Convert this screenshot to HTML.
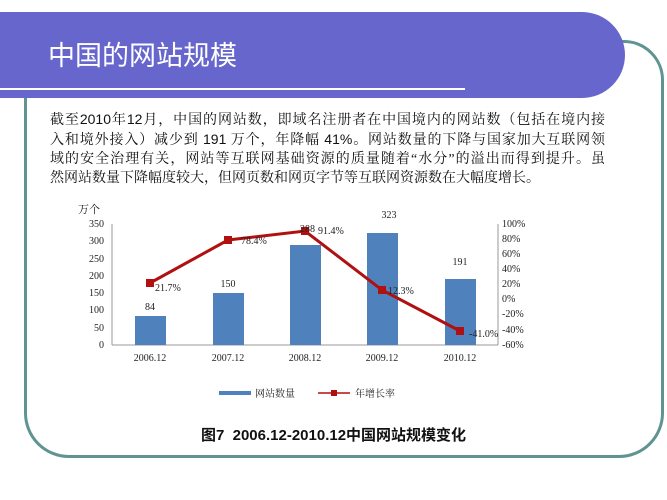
<!DOCTYPE html>
<html><head><meta charset="utf-8"><style>
body{margin:0;width:667px;height:500px;background:#fff;position:relative;overflow:hidden;font-family:"Liberation Sans","Noto Sans CJK SC",sans-serif}
.frame{position:absolute;left:24px;top:40px;width:634px;height:412px;border:3px solid #5f9490;border-radius:0 40px 45px 45px}
.hdr{position:absolute;left:0;top:12px;width:625px;height:86px;background:#6666cc;border-radius:0 48px 48px 0}
.hdr .t{position:absolute;left:48px;top:22px;color:#fff;font-size:27px}
.hdr .ln{position:absolute;left:0;top:76px;width:465px;height:2px;background:#fff}
.p{position:absolute;left:50px;top:110px;width:555px;font-size:14px;line-height:19px;color:#111;font-family:"Liberation Serif","Noto Serif CJK SC",serif}
.p div{text-align:justify;text-align-last:justify;white-space:nowrap}
.p div.l{text-align-last:left}
.p b{font-family:"Liberation Sans",sans-serif;font-weight:normal}
.cap{position:absolute;left:0;width:667px;top:424px;text-align:center;font-size:15px;font-weight:bold;color:#111}
</style></head><body>
<div class="frame"></div>
<div class="hdr"><div class="t">中国的网站规模</div><div class="ln"></div></div>
<div class="p">
<div>截至<b>2010</b>年<b>12</b>月，中国的网站数，即域名注册者在中国境内的网站数（包括在境内接</div>
<div>入和境外接入）减少到 <b>191</b> 万个，年降幅 <b>41%</b>。网站数量的下降与国家加大互联网领</div>
<div>域的安全治理有关，网站等互联网基础资源的质量随着“水分”的溢出而得到提升。虽</div>
<div class="l">然网站数量下降幅度较大，但网页数和网页字节等互联网资源数在大幅度增长。</div>
</div>
<svg width="667" height="500" style="position:absolute;left:0;top:0" font-family="Liberation Serif,Noto Serif CJK SC,serif" font-size="10" fill="#222">
<text x="78" y="213" font-size="11">万个</text>
<line x1="112" y1="224" x2="112" y2="345" stroke="#999"/>
<line x1="112" y1="345" x2="498" y2="345" stroke="#999"/>
<line x1="498" y1="224" x2="498" y2="345" stroke="#999"/>
<g text-anchor="end">
<text x="104" y="348">0</text><text x="104" y="331">50</text><text x="104" y="313">100</text><text x="104" y="296">150</text><text x="104" y="279">200</text><text x="104" y="262">250</text><text x="104" y="244">300</text><text x="104" y="227">350</text>
</g>
<g>
<text x="502" y="227">100%</text><text x="502" y="242">80%</text><text x="502" y="257">60%</text><text x="502" y="272">40%</text><text x="502" y="287">20%</text><text x="502" y="302">0%</text><text x="502" y="317">-20%</text><text x="502" y="333">-40%</text><text x="502" y="348">-60%</text>
</g>
<g fill="#4f81bd">
<rect x="135" y="316" width="31" height="29"/>
<rect x="213" y="293" width="31" height="52"/>
<rect x="290" y="245" width="31" height="100"/>
<rect x="367" y="233" width="31" height="112"/>
<rect x="445" y="279" width="31" height="66"/>
</g>
<g text-anchor="middle">
<text x="150" y="310">84</text><text x="228" y="287">150</text><text x="389" y="218">323</text><text x="460" y="265">191</text>
<text x="150" y="361">2006.12</text><text x="228" y="361">2007.12</text><text x="305" y="361">2008.12</text><text x="382" y="361">2009.12</text><text x="460" y="361">2010.12</text>
</g>
<polyline points="150,283 228,240 305,231 382,290 460,331" fill="none" stroke="#b01010" stroke-width="3"/>
<g fill="#b01010"><rect x="146" y="279" width="8" height="8"/><rect x="224" y="236" width="8" height="8"/><rect x="301" y="227" width="8" height="8"/><rect x="378" y="286" width="8" height="8"/><rect x="456" y="327" width="8" height="8"/></g>
<text x="155" y="291">21.7%</text><text x="241" y="244">78.4%</text><text x="300" y="232">288</text><text x="318" y="234">91.4%</text><text x="388" y="294">12.3%</text><text x="469" y="337">-41.0%</text>
<rect x="219" y="391" width="32" height="4" fill="#4f81bd"/>
<text x="255" y="397">网站数量</text>
<line x1="318" y1="393" x2="350" y2="393" stroke="#b01010" stroke-width="1.5"/>
<rect x="331" y="390" width="6" height="6" fill="#b01010"/>
<text x="355" y="397">年增长率</text>
</svg>
<div class="cap">图7&nbsp; 2006.12-2010.12中国网站规模变化</div>
</body></html>
